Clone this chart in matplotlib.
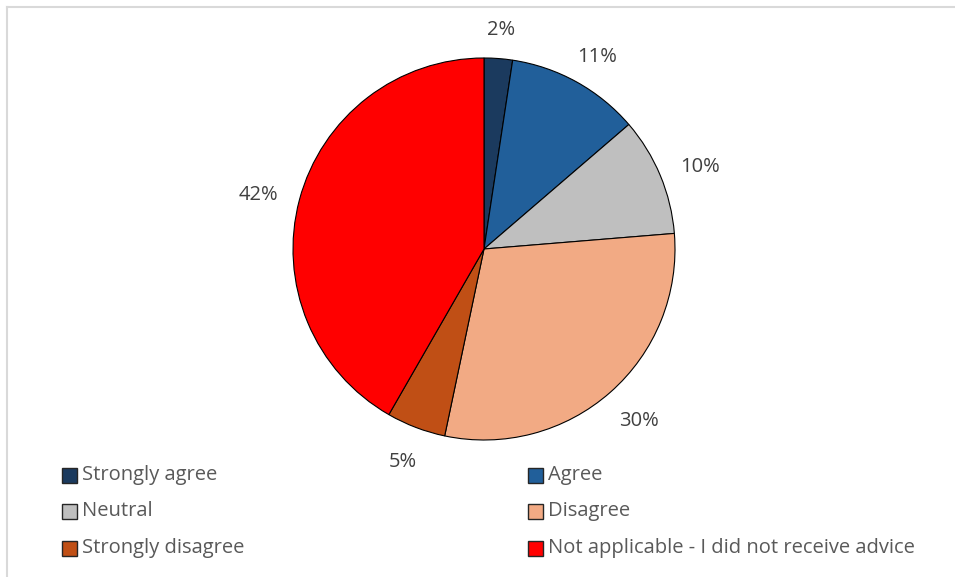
import numpy as np
import matplotlib.pyplot as plt
from matplotlib.patches import Rectangle
from matplotlib.lines import Line2D

categories = ["Strongly agree", "Agree", "Neutral", "Disagree",
              "Strongly disagree", "Not applicable - I did not receive advice"]
shares = [2.4, 11.3, 10.0, 29.6, 5.0, 41.7]
colors = ["#1B3A5E", "#215F9A", "#BFBFBF", "#F2AA84", "#C04F15", "#FF0000"]

plt.rcParams['font.family'] = ['Open Sans', 'DejaVu Sans']

fig = plt.figure(figsize=(9.55, 5.77), dpi=100)
W, H = 955, 577

# pie: centre (484, 249) px, radius 191 px
cx, cy, r = 484, 249, 191
ax = fig.add_axes([(cx - r) / W, (H - cy - r) / H, 2 * r / W, 2 * r / H])
wedges, _ = ax.pie(
    shares, colors=colors, startangle=90, counterclock=False, radius=1,
    wedgeprops=dict(edgecolor="black", linewidth=0.8))
ax.set_xlim(-1, 1)
ax.set_ylim(-1, 1)
ax.axis("off")

# percentage labels just outside each slice, pushed out by half the text box
fig.canvas.draw()
renderer = fig.canvas.get_renderer()
gap = 1.12
drop = 4 / r
for w, v in zip(wedges, shares):
    th = np.deg2rad((w.theta1 + w.theta2) / 2)
    t = ax.text(0, 0, f"{v:.0f}%", fontsize=14.5, color="#404040",
                ha="center", va="center")
    bb = t.get_window_extent(renderer)
    hw = bb.width / 2 / r
    hh = bb.height / 2 / r
    t.set_position((gap * np.cos(th) + hw * np.cos(th),
                    gap * np.sin(th) + hh * np.sin(th) - drop))

# legend, two columns filled row by row
col_x = [62, 528]
row_y = [475, 511, 548]
box = 15
for i, (lab, c) in enumerate(zip(categories, colors)):
    x = col_x[i % 2]
    y = row_y[i // 2]
    fig.patches.append(Rectangle((x / W, (H - y - box / 2) / H), box / W, box / H,
                                 facecolor=c, edgecolor="#262626", linewidth=1,
                                 transform=fig.transFigure))
    fig.text((x + box + 5) / W, (H - y) / H, lab, fontsize=14.5, color="#595959",
             va="center", ha="left")

# light frame along top and left edges
fig.add_artist(Line2D([7 / W, 1], [1 - 7 / H, 1 - 7 / H], color="#D9D9D9", lw=1.5,
                      transform=fig.transFigure))
fig.add_artist(Line2D([7 / W, 7 / W], [0, 1 - 7 / H], color="#D9D9D9", lw=1.5,
                      transform=fig.transFigure))

fig.savefig("out.png", dpi=100)
